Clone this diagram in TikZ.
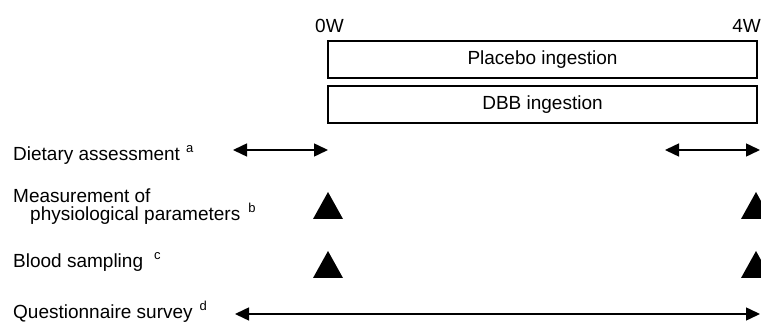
\documentclass[tikz,border=0pt]{standalone}
\usepackage{fontspec}
\setmainfont{Liberation Sans}
\usetikzlibrary{arrows.meta}
\newcommand\supmark[2]{\hspace{#1}\raisebox{8pt}{\fontsize{13}{13}\selectfont #2}}
\begin{document}
\begin{tikzpicture}[x=1pt,y=-1pt, every node/.style={font=\fontsize{19}{18}\selectfont,inner sep=0pt},
  phase/.style={draw,line width=2pt},
  span/.style={{Triangle[length=14pt,width=13pt]}-{Triangle[length=14pt,width=13pt]},line width=1.5pt},
  lbl/.style={anchor=base west,align=left}]
\useasboundingbox (0,0) rectangle (761,323);
\clip (0,0) rectangle (761,323);
% time axis
\node[anchor=base west] (w0) at (315,33) {0W};
\node[anchor=base east] (w4) at (761,33) {4W};
\draw[phase] (328,41) rectangle (757,78);
\node (placebo) at (542.5,59.5) {Placebo ingestion};
\draw[phase] (328,86) rectangle (757,123);
\node (dbb) at (542.5,104.5) {DBB ingestion};
% row labels
\node[lbl] (diet) at (13,161) {Dietary assessment\supmark{6pt}{a}};
\node[lbl] (meas) at (13,221) {Measurement of\\\hspace{17pt}physiological parameters\supmark{8pt}{b}};
\node[lbl] (blood) at (13,268) {Blood sampling\supmark{11pt}{c}};
\node[lbl] (quest) at (13,319) {Questionnaire survey\supmark{7pt}{d}};
% spans
\coordinate (d0a) at (233,150); \coordinate (d0b) at (328,150);
\coordinate (d4a) at (665,150); \coordinate (d4b) at (760,150);
\coordinate (qa) at (235,314); \coordinate (qb) at (760,314);
\draw[span] (d0a) -- (d0b);
\draw[span] (d4a) -- (d4b);
\draw[span] (qa) -- (qb);
% measurement points
\foreach \x in {328,756}{
  \fill (\x-15,219) -- (\x+15,219) -- (\x,192) -- cycle;
  \fill (\x-15,278) -- (\x+15,278) -- (\x,251) -- cycle;
}
\end{tikzpicture}
\end{document}
